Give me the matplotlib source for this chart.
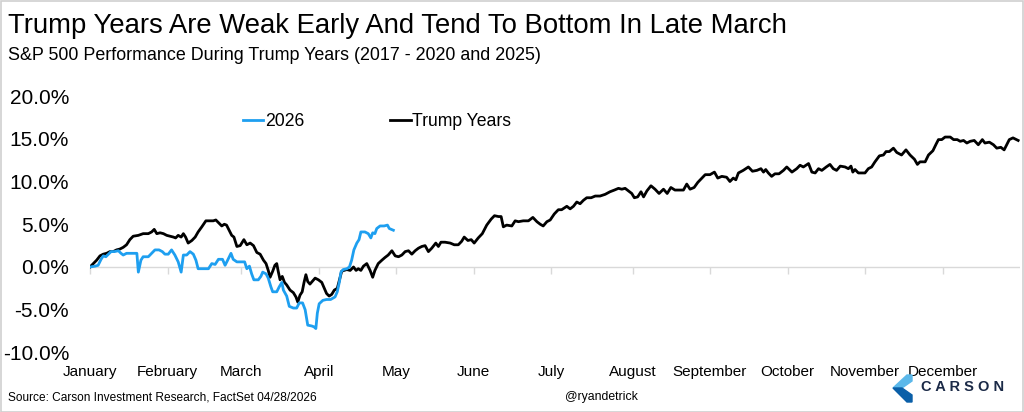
import matplotlib
matplotlib.use('Agg')
import matplotlib.pyplot as plt
from matplotlib.patches import Polygon, Rectangle

plt.rcParams['font.family'] = ['Liberation Sans', 'DejaVu Sans']

# ---------------- data ----------------
months = ['January', 'February', 'March', 'April', 'May', 'June', 'July',
          'August', 'September', 'October', 'November', 'December']
month_start_day = [0, 21, 41, 62, 83, 104, 125, 147, 168, 189, 210, 231]
year_days = 252

trump_day = [0, 0.9, 1.8, 2.7, 3.6, 4.5, 5.4, 6.3, 7.2, 8.1, 9.0, 9.9, 10.8, 11.7,
             13.1, 14.4, 15.8, 16.7, 17.4, 18.1, 19.0, 19.9, 20.8, 21.7, 22.6, 23.2,
             23.9, 24.7, 25.3, 25.9, 26.6, 27.6, 28.5, 29.3, 30.3, 31.4, 32.5, 33.4,
             34.1, 34.8, 35.7, 36.4, 37.0, 37.7, 38.4, 39.0, 39.8, 40.7, 41.7, 42.5,
             43.4, 44.3, 45.2, 46.1, 47.0, 47.7, 48.3, 48.8, 49.5, 50.1, 50.6, 51.0,
             51.5, 52.1, 52.7, 53.3, 54.2, 55.1, 55.8, 56.3, 56.9, 57.5, 58.0, 58.5,
             59.0, 59.6, 60.4, 61.0, 61.9, 62.8, 63.4, 64.1, 64.8, 65.5, 66.2, 67.0,
             67.6, 68.2, 68.8, 69.6, 70.5, 71.4, 72.1, 72.7, 73.4, 74.1, 75.0, 75.9,
             76.6, 77.2, 78.1, 79.1, 79.9, 80.8, 81.8, 82.7, 83.6, 84.5, 85.4, 86.3,
             87.2, 88.1, 89.0, 89.9, 90.8, 91.7, 92.6, 93.7, 94.4, 95.1, 96.2, 97.6,
             98.7, 99.8, 100.7, 101.4, 102.4, 103.3, 104.1, 105.2, 106.3, 107.5, 108.7,
             109.6, 110.7, 111.4, 112.0, 112.9, 114.3, 115.2, 116.1, 117.4, 118.8,
             120.0, 121.1, 122.0, 122.8, 123.8, 124.7, 125.8, 126.9, 127.8, 129.2,
             130.1, 131.0, 131.9, 132.8, 133.7, 134.6, 135.8, 136.9, 138.2, 139.6,
             140.9, 142.1, 143.2, 144.1, 145.0, 145.9, 146.8, 147.5, 148.4, 149.3,
             150.0, 150.9, 152.0, 153.1, 154.2, 155.4, 156.4, 157.4, 158.5, 159.9,
             160.8, 161.7, 162.6, 163.7, 164.7, 165.8, 166.7, 168.0, 169.2, 170.1,
             171.2, 172.5, 173.4, 174.3, 175.0, 175.7, 177.0, 178.4, 179.5, 180.7,
             181.8, 182.5, 183.1, 183.8, 184.7, 185.6, 186.7, 187.9, 188.8, 190.2,
             191.5, 192.4, 193.3, 194.7, 195.6, 196.5, 197.4, 198.3, 199.5, 200.5,
             201.4, 202.3, 203.3, 204.6, 205.5, 206.2, 206.7, 207.3, 208.2, 209.1,
             210.0, 210.9, 211.8, 212.7, 213.9, 215.0, 215.7, 216.6, 217.7, 218.6,
             219.9, 221.1, 222.2, 223.4, 224.2, 224.9, 226.3, 227.2, 228.4, 229.3,
             229.9, 230.8, 231.7, 233.1, 234.0, 235.0, 235.8, 236.7, 237.6, 238.5,
             239.6, 240.7, 241.8, 242.5, 243.7, 244.8, 245.7, 246.8, 247.7, 248.4,
             249.1, 250.1, 251.5]
trump_pct = [0.0, 0.4, 0.8, 1.3, 1.5, 1.6, 1.8, 1.8, 2.0, 2.1, 2.3, 2.6, 3.2, 3.6,
             3.7, 3.9, 3.9, 4.1, 4.4, 3.9, 4.0, 3.9, 3.7, 3.6, 3.5, 3.4,
             3.7, 3.5, 3.9, 3.5, 2.8, 3.1, 3.5, 4.1, 4.7, 5.4, 5.4, 5.4,
             5.5, 5.2, 4.8, 5.0, 4.9, 4.3, 3.7, 3.5, 2.4, 2.5, 3.2, 2.6,
             2.8, 2.5, 1.7, 1.5, 0.8, 0.4, -0.4, -1.2, -0.5, 0.2, 0.4, -0.5,
             -1.5, -1.1, -1.8, -2.1, -2.7, -3.0, -3.5, -4.1, -3.3, -2.9, -1.8, -0.9,
             -1.7, -2.0, -1.6, -1.3, -1.5, -1.8, -2.4, -3.1, -3.4, -3.2, -2.7, -2.5,
             -1.5, -0.5, -0.4, -0.3, -0.4, 0.0, -0.4, -0.2, -0.4, 0.1, 0.4, -0.4,
             -1.2, -0.4, 0.4, 0.8, 1.1, 1.4, 1.9, 1.3, 1.2, 1.4, 1.8, 1.9,
             1.5, 1.9, 2.2, 2.4, 2.5, 1.8, 2.2, 2.8, 2.4, 2.9, 2.9, 2.8,
             2.6, 2.6, 3.0, 3.5, 3.1, 3.2, 2.8, 3.4, 3.9, 4.9, 5.6,
             6.0, 5.9, 5.9, 4.7, 4.9, 4.8, 5.4, 5.3, 5.4, 5.4,
             5.8, 5.3, 5.0, 4.8, 5.3, 5.5, 6.2, 6.7, 6.7, 7.1,
             6.8, 7.1, 7.6, 7.4, 7.8, 8.1, 8.1, 8.3, 8.3, 8.5,
             8.8, 9.0, 9.2, 9.1, 9.2, 8.9, 8.6, 8.1, 8.2, 8.8,
             8.2, 8.9, 9.5, 9.1, 8.6, 9.1, 8.6, 9.3, 9.0, 9.0,
             9.0, 9.7, 9.1, 9.3, 9.9, 10.4, 10.8, 10.8, 11.1, 10.4,
             10.6, 10.5, 10.0, 10.4, 10.2, 11.0, 11.3, 11.7, 11.2, 11.3,
             11.5, 11.1, 11.4, 11.0, 10.6, 10.9, 10.9, 11.3, 11.7, 11.1,
             11.5, 11.9, 11.7, 12.1, 11.1, 11.0, 11.5, 11.3, 11.7, 12.0,
             11.5, 11.3, 11.8, 11.7, 11.5, 11.8, 11.1, 11.4, 11.0, 11.0,
             11.0, 11.5, 11.7, 12.3, 13.0, 13.1, 13.5, 13.5, 13.9, 13.4,
             13.1, 13.7, 13.1, 12.6, 12.0, 12.3, 12.3, 13.1, 13.6, 14.4,
             14.9, 14.9, 15.2, 15.2, 14.9, 14.9, 14.7, 14.8, 14.5, 14.7,
             14.8, 14.3, 14.9, 14.5, 14.6, 14.3, 13.9, 14.0, 13.7, 14.3,
             14.9, 15.1, 14.8]

y2026_day = [0, 1.4, 2.2, 3.0, 3.6, 4.3, 5.0, 5.7, 6.6, 7.7, 8.4, 9.0, 9.9, 11.3,
             12.7, 13.1, 13.8, 14.4, 15.8, 16.7, 17.6, 18.7, 19.6, 20.3, 21.2, 22.1,
             23.0, 23.9, 24.7, 25.3, 26.2, 27.1, 28.0, 28.7, 29.3, 30.7, 32.1, 33.0,
             33.9, 34.8, 35.9, 36.6, 37.3, 38.2, 38.8, 39.8, 41.1, 41.9, 42.5, 43.2,
             43.8, 44.4, 45.6, 46.3, 46.8, 47.7, 48.3, 49.0, 49.5, 50.6, 51.3, 52.0,
             52.4, 53.3, 54.0, 55.1, 56.0, 56.7, 57.6, 58.3, 59.0, 60.1, 60.7, 61.2,
             61.6, 62.1, 63.1, 64.1, 65.2, 66.4, 67.0, 67.6, 68.0, 68.6, 69.6, 70.3,
             70.9, 71.5, 72.3, 72.9, 73.4, 74.5, 75.4, 76.1, 76.6, 77.2, 77.7, 78.6,
             79.7, 80.6, 81.1, 82.2]
y2026_pct = [0.0, 0.1, 0.2, 0.9, 1.3, 1.2, 1.5, 1.8, 1.8, 1.9, 1.6, 1.4, 1.6, 1.6,
             1.6, -0.6, 0.8, 1.2, 1.2, 1.6, 2.0, 2.0, 1.8, 1.5, 1.5, 2.0,
             1.4, 0.6, -0.6, 1.4, 1.4, 1.8, 1.5, 0.8, -0.2, -0.2, -0.2, 0.4,
             0.3, 0.9, 0.9, 0.2, 0.8, 1.6, 0.9, 0.6, 0.6, 0.6, -0.2, 0.1,
             -0.8, -1.5, -1.5, -1.1, -0.6, -0.8, -1.3, -2.3, -2.9, -2.9, -2.3, -1.8,
             -2.7, -3.4, -4.6, -4.8, -4.8, -4.2, -4.2, -5.0, -6.8, -6.9, -7.0, -7.2,
             -5.4, -4.3, -3.9, -3.8, -3.8, -3.5, -2.9, -1.7, -0.6, -0.3, -0.2, 0.0,
             0.8, 2.0, 2.8, 3.2, 4.1, 4.1, 3.9, 3.4, 4.0, 3.9, 4.5, 4.8,
             4.8, 4.9, 4.5, 4.3]

y_ticks = [-10, -5, 0, 5, 10, 15, 20]

title = 'Trump Years Are Weak Early And Tend To Bottom In Late March'
subtitle = 'S&P 500 Performance During Trump Years (2017 - 2020 and 2025)'
source = 'Source: Carson Investment Research, FactSet 04/28/2026'
handle = '@ryandetrick'

BLUE = '#1E9FF0'
W, H = 1024, 412

# ---------------- figure ----------------
fig = plt.figure(figsize=(W / 100, H / 100), dpi=100)
ax = fig.add_axes([90 / W, 1 - 352.5 / H, 930 / W, 256.5 / H])

ax.axhline(0, color='#d9d9d9', lw=1.0, zorder=1)
ax.plot(y2026_day, y2026_pct, color=BLUE, lw=2.0, label='2026', zorder=3,
        solid_joinstyle='round')
ax.plot(trump_day, trump_pct, color='black', lw=2.0, label='Trump Years', zorder=2,
        solid_joinstyle='round')

ax.set_xlim(0, year_days)
ax.set_ylim(-10, 20)
for s in ax.spines.values():
    s.set_visible(False)

ax.set_yticks(y_ticks)
ax.set_yticklabels([f'{v:.1f}%' for v in y_ticks])
ax.tick_params(axis='y', length=0, pad=15, labelsize=15)
ax.set_xticks(month_start_day)
ax.set_xticklabels(months)
ax.tick_params(axis='x', length=0, pad=9, labelsize=11)

# tick marks on the zero line
sec = ax.secondary_xaxis(1 / 3)
sec.set_xticks(month_start_day)
sec.set_xticklabels([''] * len(month_start_day))
sec.tick_params(axis='x', direction='out', length=5, width=1, color='#d9d9d9')
for s in sec.spines.values():
    s.set_visible(False)

leg = ax.legend(loc='center left', bbox_to_anchor=(153 / 930, 0.90), ncol=2,
                frameon=False, fontsize=12.7, handlelength=1.15, handletextpad=0.08,
                columnspacing=4.9, borderpad=0, borderaxespad=0)

# ---------------- texts ----------------
fig.text(8 / W, 1 - 26 / H, title, fontsize=19.8, va='center', ha='left')
fig.text(8 / W, 1 - 55 / H, subtitle, fontsize=12.9, va='center', ha='left')
fig.text(8 / W, 1 - 398 / H, source, fontsize=8.6, va='center', ha='left')
fig.text(601 / W, 1 - 397 / H, handle, fontsize=8.8, va='center', ha='center')

# logo
def fp(pts):
    return [(x / W, 1 - y / H) for x, y in pts]

fig.patches.append(Polygon(fp([(893, 388), (907, 375), (912, 375), (912, 381), (902, 388)]),
                           closed=True, transform=fig.transFigure, color='#5BB8EA'))
fig.patches.append(Polygon(fp([(893, 388), (902, 388), (912, 395), (912, 402), (907, 402)]),
                           closed=True, transform=fig.transFigure, color='#0A5FA8'))
fig.text(963 / W, 1 - 387 / H, 'C A R S O N', fontsize=10.5, fontweight='bold',
         color='#1B2A47', va='center', ha='center')

# border
fig.patches.append(Rectangle((0.5 / W, 0.5 / H), 1 - 1.5 / W, 1 - 1.5 / H,
                             transform=fig.transFigure, fill=False,
                             edgecolor='#cfcfcf', lw=1.2))

fig.savefig('out.png', dpi=100)
